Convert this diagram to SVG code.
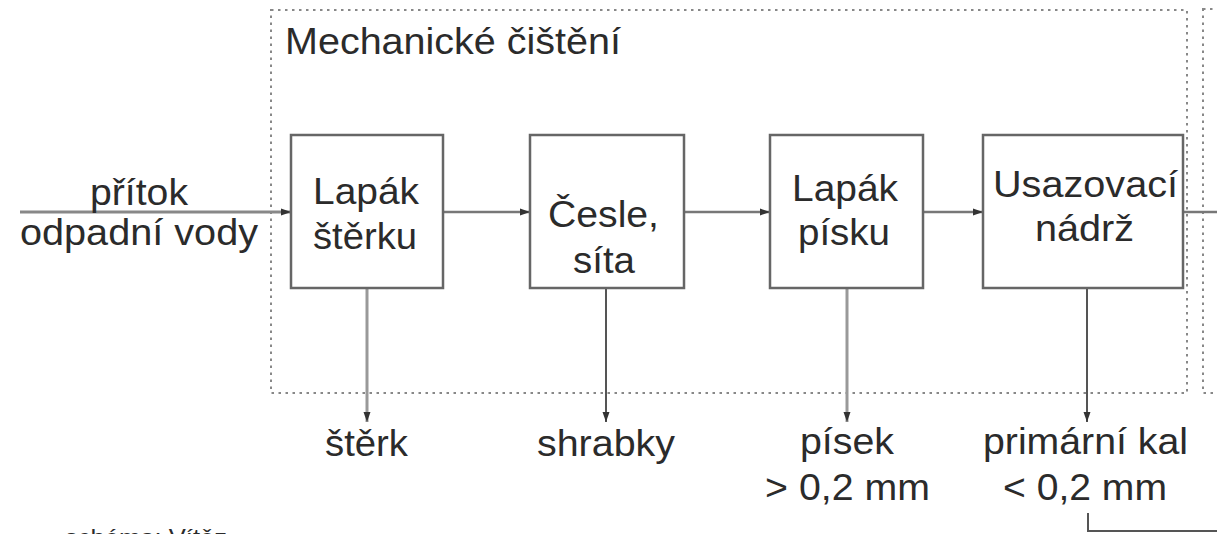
<svg xmlns="http://www.w3.org/2000/svg" width="1217" height="534" viewBox="0 0 1217 534">
<defs>
<marker id="ah" markerUnits="userSpaceOnUse" markerWidth="11" markerHeight="8" refX="10" refY="4" orient="auto">
<path d="M0,0.5 L10,4 L0,7.5 z" fill="#333"/>
</marker>
<style>
text{font-family:"Liberation Sans",Arial,sans-serif;font-size:36px;fill:#2b2b2b;}
.box{fill:#fff;stroke:#666;stroke-width:2.5;}
.dot{fill:none;stroke:#888;stroke-width:2;stroke-dasharray:2.5 4.5;}
.ln{fill:none;stroke:#777;stroke-width:2.5;}
.lnd{fill:none;stroke:#555;stroke-width:2;}
</style>
</defs>
<rect width="1217" height="534" fill="#fff"/>
<g id="group-mech">
<rect class="dot" x="271" y="10" width="916" height="383"/>
<text x="285" y="54" textLength="336" lengthAdjust="spacingAndGlyphs">Mechanické čištění</text>
</g>
<g id="group-next">
<rect class="dot" x="1203" y="9" width="100" height="384"/>
</g>
<g id="connectors">
<line x1="20" y1="212" x2="291" y2="212" stroke="#888" stroke-width="3" marker-end="url(#ah)"/>
<line class="ln" x1="443" y1="212" x2="530" y2="212" marker-end="url(#ah)"/>
<line class="ln" x1="684" y1="212" x2="770" y2="212" marker-end="url(#ah)"/>
<line class="ln" x1="923" y1="212" x2="983" y2="212" marker-end="url(#ah)"/>
<line class="ln" x1="1183" y1="212" x2="1217" y2="212"/>
<line x1="367" y1="288" x2="367" y2="422" stroke="#999" stroke-width="3" marker-end="url(#ah)"/>
<line class="lnd" x1="606" y1="288" x2="606" y2="422" marker-end="url(#ah)"/>
<line x1="847" y1="288" x2="847" y2="422" stroke="#999" stroke-width="3" marker-end="url(#ah)"/>
<line class="lnd" x1="1087" y1="288" x2="1087" y2="422" marker-end="url(#ah)"/>
<polyline class="lnd" points="1088,513 1088,531 1217,531"/>
</g>
<g id="node-lapak-sterku">
<rect class="box" x="291" y="135" width="152" height="153"/>
<text x="313" y="204" textLength="106" lengthAdjust="spacingAndGlyphs">Lapák</text>
<text x="313" y="249" textLength="104" lengthAdjust="spacingAndGlyphs">štěrku</text>
</g>
<g id="node-cesle">
<rect class="box" x="530" y="135" width="154" height="153"/>
<text x="548" y="227" textLength="111" lengthAdjust="spacingAndGlyphs">Česle,</text>
<text x="573" y="273" textLength="62" lengthAdjust="spacingAndGlyphs">síta</text>
</g>
<g id="node-lapak-pisku">
<rect class="box" x="770" y="135" width="153" height="153"/>
<text x="792" y="201" textLength="106" lengthAdjust="spacingAndGlyphs">Lapák</text>
<text x="798" y="245" textLength="92" lengthAdjust="spacingAndGlyphs">písku</text>
</g>
<g id="node-usazovaci">
<rect class="box" x="983" y="135" width="200" height="153"/>
<text x="993" y="197" textLength="185" lengthAdjust="spacingAndGlyphs">Usazovací</text>
<text x="1035" y="241" textLength="99" lengthAdjust="spacingAndGlyphs">nádrž</text>
</g>
<g id="label-pritok">
<text x="90" y="205" textLength="98" lengthAdjust="spacingAndGlyphs">přítok</text>
<text x="20" y="245" textLength="238" lengthAdjust="spacingAndGlyphs">odpadní vody</text>
</g>
<g id="out-sterk">
<text x="325" y="456" textLength="83" lengthAdjust="spacingAndGlyphs">štěrk</text>
</g>
<g id="out-shrabky">
<text x="537" y="456" textLength="138" lengthAdjust="spacingAndGlyphs">shrabky</text>
</g>
<g id="out-pisek">
<text x="800" y="454" textLength="94" lengthAdjust="spacingAndGlyphs">písek</text>
<text x="765" y="500" textLength="165" lengthAdjust="spacingAndGlyphs">&gt; 0,2 mm</text>
</g>
<g id="out-kal">
<text x="983" y="454" textLength="205" lengthAdjust="spacingAndGlyphs">primární kal</text>
<text x="1003" y="500" textLength="164" lengthAdjust="spacingAndGlyphs">&lt; 0,2 mm</text>
</g>
<g id="caption">
<text x="65" y="546" style="font-size:24px" textLength="162" lengthAdjust="spacingAndGlyphs">schéma: Vítěz</text>
</g>
</svg>
